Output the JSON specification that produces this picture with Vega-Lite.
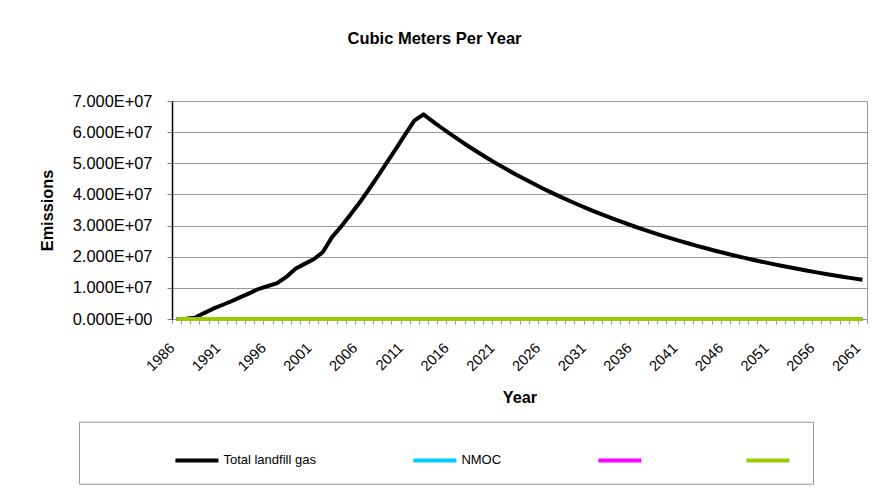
{
  "$schema": "https://vega.github.io/schema/vega-lite/v6.json",
  "width": 695,
  "height": 218,
  "autosize": {"type": "none"},
  "padding": {"left": 172, "top": 101, "right": 11, "bottom": 179},
  "background": "white",
  "config": {"font": "Liberation Sans", "view": {"stroke": "#999999", "strokeWidth": 1}},
  "title": {"text": "Cubic Meters Per Year", "font": "Liberation Sans", "fontSize": 16.5, "fontWeight": "bold", "color": "black", "anchor": "middle", "frame": "group", "dx": -85, "offset": 33, "baseline": "alphabetic"},
  "data": {"values": [
    {"Year": 1986, "Total": 0, "NMOC": 0, "S3": 0, "S4": 0},
    {"Year": 1987, "Total": 100000, "NMOC": 0, "S3": 0, "S4": 0},
    {"Year": 1988, "Total": 400000, "NMOC": 0, "S3": 0, "S4": 0},
    {"Year": 1989, "Total": 1900000, "NMOC": 0, "S3": 0, "S4": 0},
    {"Year": 1990, "Total": 3300000, "NMOC": 0, "S3": 0, "S4": 0},
    {"Year": 1991, "Total": 4500000, "NMOC": 0, "S3": 0, "S4": 0},
    {"Year": 1992, "Total": 5700000, "NMOC": 0, "S3": 0, "S4": 0},
    {"Year": 1993, "Total": 7000000, "NMOC": 0, "S3": 0, "S4": 0},
    {"Year": 1994, "Total": 8300000, "NMOC": 0, "S3": 0, "S4": 0},
    {"Year": 1995, "Total": 9700000, "NMOC": 0, "S3": 0, "S4": 0},
    {"Year": 1996, "Total": 10600000, "NMOC": 0, "S3": 0, "S4": 0},
    {"Year": 1997, "Total": 11500000, "NMOC": 0, "S3": 0, "S4": 0},
    {"Year": 1998, "Total": 13500000, "NMOC": 0, "S3": 0, "S4": 0},
    {"Year": 1999, "Total": 16100000, "NMOC": 0, "S3": 0, "S4": 0},
    {"Year": 2000, "Total": 17700000, "NMOC": 0, "S3": 0, "S4": 0},
    {"Year": 2001, "Total": 19200000, "NMOC": 0, "S3": 0, "S4": 0},
    {"Year": 2002, "Total": 21500000, "NMOC": 0, "S3": 0, "S4": 0},
    {"Year": 2003, "Total": 26300000, "NMOC": 0, "S3": 0, "S4": 0},
    {"Year": 2004, "Total": 29700000, "NMOC": 0, "S3": 0, "S4": 0},
    {"Year": 2005, "Total": 33500000, "NMOC": 0, "S3": 0, "S4": 0},
    {"Year": 2006, "Total": 37300000, "NMOC": 0, "S3": 0, "S4": 0},
    {"Year": 2007, "Total": 41500000, "NMOC": 0, "S3": 0, "S4": 0},
    {"Year": 2008, "Total": 45800000, "NMOC": 0, "S3": 0, "S4": 0},
    {"Year": 2009, "Total": 50300000, "NMOC": 0, "S3": 0, "S4": 0},
    {"Year": 2010, "Total": 54700000, "NMOC": 0, "S3": 0, "S4": 0},
    {"Year": 2011, "Total": 59300000, "NMOC": 0, "S3": 0, "S4": 0},
    {"Year": 2012, "Total": 63700000, "NMOC": 0, "S3": 0, "S4": 0},
    {"Year": 2013, "Total": 65700000, "NMOC": 0, "S3": 0, "S4": 0},
    {"Year": 2014, "Total": 63480000, "NMOC": 0, "S3": 0, "S4": 0},
    {"Year": 2015, "Total": 61330000, "NMOC": 0, "S3": 0, "S4": 0},
    {"Year": 2016, "Total": 59260000, "NMOC": 0, "S3": 0, "S4": 0},
    {"Year": 2017, "Total": 57250000, "NMOC": 0, "S3": 0, "S4": 0},
    {"Year": 2018, "Total": 55320000, "NMOC": 0, "S3": 0, "S4": 0},
    {"Year": 2019, "Total": 53450000, "NMOC": 0, "S3": 0, "S4": 0},
    {"Year": 2020, "Total": 51640000, "NMOC": 0, "S3": 0, "S4": 0},
    {"Year": 2021, "Total": 49890000, "NMOC": 0, "S3": 0, "S4": 0},
    {"Year": 2022, "Total": 48210000, "NMOC": 0, "S3": 0, "S4": 0},
    {"Year": 2023, "Total": 46580000, "NMOC": 0, "S3": 0, "S4": 0},
    {"Year": 2024, "Total": 45000000, "NMOC": 0, "S3": 0, "S4": 0},
    {"Year": 2025, "Total": 43480000, "NMOC": 0, "S3": 0, "S4": 0},
    {"Year": 2026, "Total": 42010000, "NMOC": 0, "S3": 0, "S4": 0},
    {"Year": 2027, "Total": 40590000, "NMOC": 0, "S3": 0, "S4": 0},
    {"Year": 2028, "Total": 39220000, "NMOC": 0, "S3": 0, "S4": 0},
    {"Year": 2029, "Total": 37890000, "NMOC": 0, "S3": 0, "S4": 0},
    {"Year": 2030, "Total": 36610000, "NMOC": 0, "S3": 0, "S4": 0},
    {"Year": 2031, "Total": 35370000, "NMOC": 0, "S3": 0, "S4": 0},
    {"Year": 2032, "Total": 34180000, "NMOC": 0, "S3": 0, "S4": 0},
    {"Year": 2033, "Total": 33020000, "NMOC": 0, "S3": 0, "S4": 0},
    {"Year": 2034, "Total": 31900000, "NMOC": 0, "S3": 0, "S4": 0},
    {"Year": 2035, "Total": 30830000, "NMOC": 0, "S3": 0, "S4": 0},
    {"Year": 2036, "Total": 29780000, "NMOC": 0, "S3": 0, "S4": 0},
    {"Year": 2037, "Total": 28780000, "NMOC": 0, "S3": 0, "S4": 0},
    {"Year": 2038, "Total": 27800000, "NMOC": 0, "S3": 0, "S4": 0},
    {"Year": 2039, "Total": 26860000, "NMOC": 0, "S3": 0, "S4": 0},
    {"Year": 2040, "Total": 25950000, "NMOC": 0, "S3": 0, "S4": 0},
    {"Year": 2041, "Total": 25080000, "NMOC": 0, "S3": 0, "S4": 0},
    {"Year": 2042, "Total": 24230000, "NMOC": 0, "S3": 0, "S4": 0},
    {"Year": 2043, "Total": 23410000, "NMOC": 0, "S3": 0, "S4": 0},
    {"Year": 2044, "Total": 22620000, "NMOC": 0, "S3": 0, "S4": 0},
    {"Year": 2045, "Total": 21850000, "NMOC": 0, "S3": 0, "S4": 0},
    {"Year": 2046, "Total": 21110000, "NMOC": 0, "S3": 0, "S4": 0},
    {"Year": 2047, "Total": 20400000, "NMOC": 0, "S3": 0, "S4": 0},
    {"Year": 2048, "Total": 19710000, "NMOC": 0, "S3": 0, "S4": 0},
    {"Year": 2049, "Total": 19040000, "NMOC": 0, "S3": 0, "S4": 0},
    {"Year": 2050, "Total": 18400000, "NMOC": 0, "S3": 0, "S4": 0},
    {"Year": 2051, "Total": 17780000, "NMOC": 0, "S3": 0, "S4": 0},
    {"Year": 2052, "Total": 17180000, "NMOC": 0, "S3": 0, "S4": 0},
    {"Year": 2053, "Total": 16600000, "NMOC": 0, "S3": 0, "S4": 0},
    {"Year": 2054, "Total": 16040000, "NMOC": 0, "S3": 0, "S4": 0},
    {"Year": 2055, "Total": 15490000, "NMOC": 0, "S3": 0, "S4": 0},
    {"Year": 2056, "Total": 14970000, "NMOC": 0, "S3": 0, "S4": 0},
    {"Year": 2057, "Total": 14460000, "NMOC": 0, "S3": 0, "S4": 0},
    {"Year": 2058, "Total": 13970000, "NMOC": 0, "S3": 0, "S4": 0},
    {"Year": 2059, "Total": 13500000, "NMOC": 0, "S3": 0, "S4": 0},
    {"Year": 2060, "Total": 13050000, "NMOC": 0, "S3": 0, "S4": 0},
    {"Year": 2061, "Total": 12600000, "NMOC": 0, "S3": 0, "S4": 0}
  ]},
  "transform": [{"fold": ["Total", "NMOC", "S3", "S4"], "as": ["series", "value"]}],
  "mark": {"type": "line", "strokeWidth": 4, "strokeJoin": "round"},
  "encoding": {
    "x": {
      "field": "Year", "type": "quantitative",
      "scale": {"domain": [1985.5, 2061.5], "nice": false, "zero": false},
      "axis": {
        "values": [1985.5,1986.5,1987.5,1988.5,1989.5,1990.5,1991.5,1992.5,1993.5,1994.5,1995.5,1996.5,1997.5,1998.5,1999.5,2000.5,2001.5,2002.5,2003.5,2004.5,2005.5,2006.5,2007.5,2008.5,2009.5,2010.5,2011.5,2012.5,2013.5,2014.5,2015.5,2016.5,2017.5,2018.5,2019.5,2020.5,2021.5,2022.5,2023.5,2024.5,2025.5,2026.5,2027.5,2028.5,2029.5,2030.5,2031.5,2032.5,2033.5,2034.5,2035.5,2036.5,2037.5,2038.5,2039.5,2040.5,2041.5,2042.5,2043.5,2044.5,2045.5,2046.5,2047.5,2048.5,2049.5,2050.5,2051.5,2052.5,2053.5,2054.5,2055.5,2056.5,2057.5,2058.5,2059.5,2060.5,2061.5],
        "labelExpr": "(datum.value + 0.5 - 1986) % 5 == 0 && datum.value < 2061 ? format(datum.value + 0.5, 'd') : ''",
        "labelAngle": -45, "labelAlign": "right", "labelBaseline": "top", "labelOffset": -5.5, "labelFontSize": 14.7, "labelColor": "black",
        "labelPadding": 16, "labelOverlap": false, "labelBound": false, "labelFlush": false,
        "tickSize": 5, "tickColor": "#999999", "domainColor": "#999999", "grid": false,
        "title": "Year", "titleFontSize": 16.3, "titleFontWeight": "bold", "titleColor": "black",
        "titleX": 347.5, "titleY": 83.5, "titleBaseline": "alphabetic", "titleAlign": "center"
      }
    },
    "y": {
      "field": "value", "type": "quantitative",
      "scale": {"domain": [0, 70000000], "nice": false},
      "axis": {
        "values": [0, 10000000, 20000000, 30000000, 40000000, 50000000, 60000000, 70000000],
        "labelExpr": "datum.value == 0 ? '0.000E+00' : format(datum.value / 10000000, '.3f') + 'E+07'",
        "labelFontSize": 16.4, "labelColor": "black", "labelPadding": 15,
        "tickSize": 5, "tickColor": "#808080", "domainColor": "black", "domainWidth": 1.5,
        "grid": true, "gridColor": "#999999",
        "title": "Emissions", "titleFontSize": 16.3, "titleFontWeight": "bold", "titleColor": "black",
        "titleAngle": -90, "titleX": -120, "titleY": 109, "titleBaseline": "alphabetic", "titleAlign": "center"
      }
    },
    "color": {
      "field": "series", "type": "nominal",
      "scale": {"domain": ["Total", "NMOC", "S3", "S4"], "range": ["#000000", "#00CCFF", "#FF00FF", "#99CC00"]},
      "legend": {
        "orient": "none", "legendX": -93, "legendY": 320.7, "direction": "horizontal", "columns": 4,
        "title": " ", "titleOrient": "left", "titlePadding": 79.4, "titleFontSize": 13,
        "symbolType": "stroke", "symbolSize": 1849, "symbolStrokeWidth": 4,
        "labelFontSize": 13, "labelColor": "black", "labelOffset": 3, "columnPadding": 89,
        "labelExpr": "datum.label == 'Total' ? 'Total landfill gas' : datum.label == 'NMOC' ? 'NMOC' : ''",
        "strokeColor": "#999999", "padding": 15
      }
    }
  }
}
